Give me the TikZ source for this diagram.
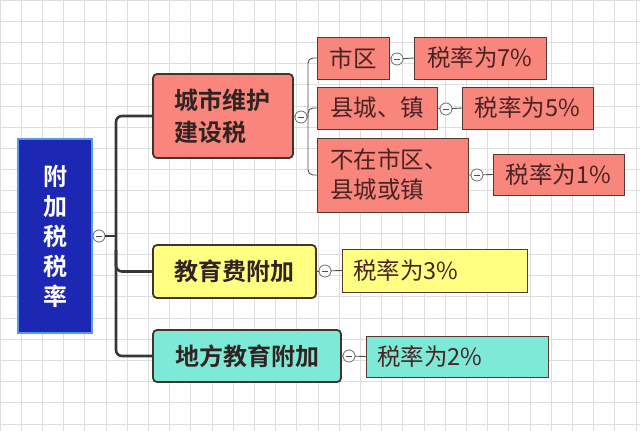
\documentclass[tikz,border=0pt]{standalone}
\usepackage{fontspec}
\setmainfont{Noto Sans CJK SC}
\newfontfamily\cjkbold{Noto Sans CJK SC Bold}
\definecolor{gridc}{RGB}{222,222,222}
\definecolor{rootbd}{RGB}{90,150,235}
\definecolor{rootfl}{RGB}{28,40,180}
\definecolor{mainbd}{RGB}{70,50,45}
\definecolor{maintx}{RGB}{50,35,35}
\definecolor{leafbd}{RGB}{90,55,50}
\definecolor{leaftx}{RGB}{75,35,35}
\definecolor{salmonc}{RGB}{248,134,124}
\definecolor{yelc}{RGB}{255,255,130}
\definecolor{tealc}{RGB}{125,234,216}
\definecolor{collbd}{RGB}{110,110,110}
\definecolor{trunkc}{RGB}{55,55,55}
\definecolor{thinc}{RGB}{80,80,80}
\begin{document}
\begin{tikzpicture}[x=1pt,y=-1pt,
  every node/.style={inner sep=0pt, outer sep=0pt},
  rootbox/.style={draw=rootbd, line width=2.5pt, fill=rootfl, text=white, font=\cjkbold\fontsize{24}{30}\selectfont, align=center, anchor=north west},
  mainbox/.style={draw=mainbd, line width=1.8pt, rounded corners=4pt, font=\cjkbold\fontsize{24}{32}\selectfont, text=maintx, align=left, anchor=north west},
  leafbox/.style={draw=leafbd, line width=1pt, font=\fontsize{23.5}{30}\selectfont, text=leaftx, align=left, anchor=north west},
  salmon/.style={fill=salmonc},
  yel/.style={fill=yelc},
  teal/.style={fill=tealc},
  coll/.style={circle, draw=collbd, line width=0.8pt, fill=white, minimum size=12pt, path picture={\draw[line width=0.9pt,thinc] ([xshift=-3pt]path picture bounding box.center) -- ([xshift=3pt]path picture bounding box.center);}},
  trunk/.style={draw=trunkc, line width=2.6pt, rounded corners=6pt},
  thin/.style={draw=thinc, line width=0.9pt, rounded corners=5pt}
]
\fill[white] (0,0) rectangle (640,431);
\useasboundingbox (0,0) rectangle (640,431);
\draw[gridc, line width=0.7pt, step=21.2pt] (0,0) grid (640,431);

% root
\node[rootbox, minimum width=74pt, minimum height=194pt] (root) at (18,139) {附\\加\\税\\税\\率};
\node[coll] (c0) at (99,236) {};

% main branches
\node[mainbox, salmon, minimum width=140pt, minimum height=84pt, text width=98pt, inner xsep=21pt] (m1) at (153,74) {城市维护\\建设税};
\node[mainbox, yel, minimum width=163pt, minimum height=53pt, align=center] (m2) at (153,245) {教育费附加};
\node[mainbox, teal, minimum width=188pt, minimum height=52pt, align=center] (m3) at (153,330) {地方教育附加};

\coordinate (tr) at (116,236);
\draw[trunk] (c0) -- (tr);
\draw[trunk] (m1.west) -| (tr) |- (m3.west);
\draw[trunk] (116,250) |- (m2.west);

% sub-branches of m1
\node[coll] (c1) at (301,117) {};
\draw[thin] (m1.east) -- (c1);
\node[leafbox, salmon, minimum width=72pt, minimum height=42pt, align=center] (s1) at (317,37) {市区};
\node[leafbox, salmon, minimum width=120pt, minimum height=42pt, align=center] (s2) at (317,87) {县城、镇};
\node[leafbox, salmon, minimum width=151pt, minimum height=74pt, text width=125pt, inner xsep=13pt] (s3) at (317,138) {不在市区、\\县城或镇};
\coordinate (b1) at (308,117);
\draw[thin] (c1) -- (b1);
\draw[thin] (s1.west) -| (b1) |- (s3.west);
\draw[thin] (b1) |- (s2.west);

% leaves
\node[coll] (c2) at (397,59) {};
\node[leafbox, salmon, minimum width=132pt, minimum height=42pt, align=center] (r1) at (414,37) {税率为7\%};
\draw[thin] (s1.east) -- (c2) -- (r1.west);

\node[coll] (c3) at (446,109) {};
\node[leafbox, salmon, minimum width=131pt, minimum height=42pt, align=center] (r2) at (462,87) {税率为5\%};
\draw[thin] (s2.east) -- (c3) -- (r2.west);

\node[coll] (c4) at (477,175) {};
\node[leafbox, salmon, minimum width=131pt, minimum height=41pt, align=center] (r3) at (493,154) {税率为1\%};
\draw[thin] (s3.east) -- (c4) -- (r3.west);

\node[coll] (c5) at (325,271) {};
\node[leafbox, yel, minimum width=185pt, minimum height=43pt, text width=163pt, inner xsep=11pt] (r4) at (342,249) {税率为3\%};
\draw[thin] (m2.east) -- (c5) -- (r4.west);

\node[coll] (c6) at (349,356) {};
\node[leafbox, teal, minimum width=182pt, minimum height=41pt, text width=160pt, inner xsep=11pt] (r5) at (366,336) {税率为2\%};
\draw[thin] (m3.east) -- (c6) -- (r5.west);
\end{tikzpicture}
\end{document}
